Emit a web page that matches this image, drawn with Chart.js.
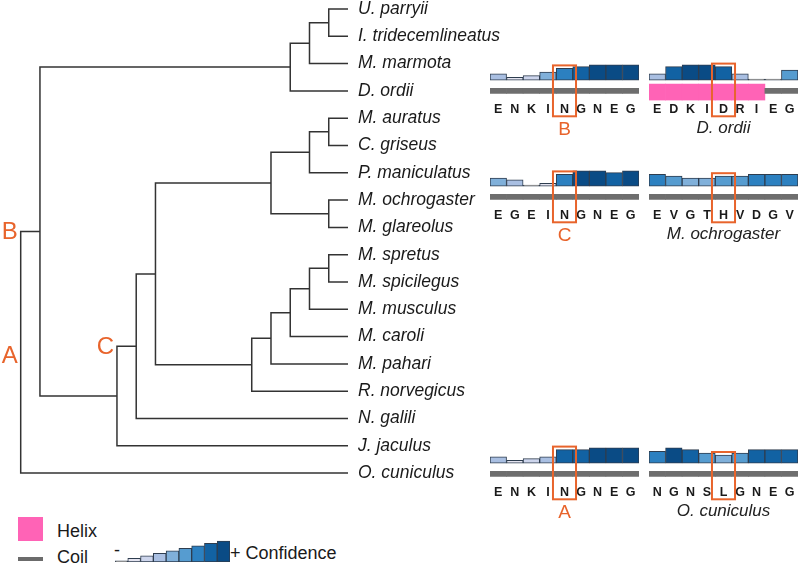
<!DOCTYPE html>
<html>
<head>
<meta charset="utf-8">
<script src="https://cdn.jsdelivr.net/npm/chart.js@4.4.1/dist/chart.umd.min.js"></script>
<style>
  html, body { margin: 0; padding: 0; background: #fff; }
  #stage { position: relative; width: 800px; height: 564px; overflow: hidden;
           font-family: 'Liberation Sans', Arial, sans-serif; color: #1a1a1a; }
  #stage canvas { position: absolute; }
  .key { position: absolute; font-size: 18px; line-height: 20px; white-space: nowrap; }
</style>
</head>
<body>
<div id="stage">
  <div class="key" style="left:18px;top:517px;width:25px;height:24px;background:#ff63b6"></div>
  <div class="key" style="left:57px;top:521px">Helix</div>
  <div class="key" style="left:18px;top:557px;width:25px;height:4px;background:#6b6b6b"></div>
  <div class="key" style="left:57px;top:547px">Coil</div>
  <div class="key" style="left:114px;top:540px">-</div>
  <div class="key" style="left:230px;top:543px">+ Confidence</div>
</div>
<script>
// leaf order, top to bottom
const species = ['U. parryii', 'I. tridecemlineatus', 'M. marmota', 'D. ordii', 'M. auratus',
  'C. griseus', 'P. maniculatus', 'M. ochrogaster', 'M. glareolus', 'M. spretus', 'M. spicilegus',
  'M. musculus', 'M. caroli', 'M. pahari', 'R. norvegicus', 'N. galili', 'J. jaculus', 'O. cuniculus'];

// topology with branch lengths
const treeNewick =
  '((' +
    '(((U. parryii:1,I. tridecemlineatus:1):1,M. marmota:2):1,D. ordii:3):13,' +
    '(((' +
      '(((M. auratus:1,C. griseus:1):1,P. maniculatus:2):2,(M. ochrogaster:1,M. glareolus:1):3):6,' +
      '(((((M. spretus:1,M. spicilegus:1):1,M. musculus:2):1,M. caroli:3):1,M. pahari:4):1,R. norvegicus:5):5' +
    '):1,N. galili:11):1,J. jaculus:12):4' +
  '):1,O. cuniculus:17);';

const ancestorNames = ['A', 'B', 'C'];
const ancestorPairs = [['U. parryii', 'O. cuniculus'], ['U. parryii', 'J. jaculus'], ['N. galili', 'M. musculus']];

// residue panels
const panelTitles = ['B', 'D. ordii', 'C', 'M. ochrogaster', 'A', 'O. cuniculus'];
const panelResidues = ['ENKINGNEG', 'EDKIDRIEG', 'EGEINGNEG', 'EVGTHVDGV', 'ENKINGNEG', 'NGNSLGNEG'];
const panelConfidence = [
  [4, 2, 3, 5, 7, 8, 9, 9, 9],
  [4, 8, 9, 9, 8, 4, 1, 1, 6],
  [5, 4, 1, 2, 7, 9, 9, 8, 9],
  [7, 6, 5, 5, 6, 6, 7, 7, 7],
  [4, 2, 3, 4, 8, 8, 9, 9, 9],
  [7, 9, 8, 6, 5, 6, 8, 8, 8]
];
const panelStructure = ['CCCCCCCCC', 'HHHHHHHCC', 'CCCCCCCCC', 'CCCCCCCCC', 'CCCCCCCCC', 'CCCCCCCCC'];
const highlightSite = 4;
const confidenceLevels = [1, 2, 3, 4, 5, 6, 7, 8, 9];

// styling
const ORANGE = '#e8642c';
const FONT = "'Liberation Sans', Arial, sans-serif";
// level 1 is so flat it only shows as a grey rule
const confidenceColors = ['#7a7a7a', '#e4e4f0', '#cdd5ec', '#a9bfe2', '#80b0da', '#569cd0',
  '#2c80c0', '#1262a3', '#0a4b85'];
const BAR_BASE = 0.5;
const HELIX_BAND = [-1.7, -10.6];
const COIL_BAND = [-4.1, -6.9];
const stage = document.getElementById('stage');

function addCanvas(left, top, w, h) {
  const c = document.createElement('canvas');
  c.width = w; c.height = h;
  c.style.left = left + 'px'; c.style.top = top + 'px';
  stage.appendChild(c);
  return c;
}

function parseNewick(str) {
  let i = 0;
  function readNode() {
    const node = { name: '', len: 0, children: [] };
    if (str[i] === '(') {
      i++;
      node.children.push(readNode());
      while (str[i] === ',') { i++; node.children.push(readNode()); }
      i++;
    }
    let label = '';
    while (i < str.length && !',():;'.includes(str[i])) label += str[i++];
    node.name = label.trim();
    if (str[i] === ':') {
      i++;
      let num = '';
      while (i < str.length && !',();'.includes(str[i])) num += str[i++];
      node.len = parseFloat(num);
    }
    return node;
  }
  return readNode();
}

// ---- tree layout ----
const root = parseNewick(treeNewick);
const internals = [];
(function place(node, parentX, parent) {
  node.x = parentX + node.len;
  node.parent = parent;
  if (!node.children.length) {
    node.y = species.indexOf(node.name);
    node.leaves = [node.name];
    return;
  }
  node.children.forEach(c => place(c, node.x, node));
  const ys = node.children.map(c => c.y);
  node.y = (Math.min(...ys) + Math.max(...ys)) / 2;
  node.leaves = node.children.flatMap(c => c.leaves);
  internals.push(node);
})(root, 0, null);

const maxDepth = Math.max(...internals.flatMap(n => n.children.map(c => c.x)));

const treeDatasets = internals.map(n => {
  const first = n.children[0], last = n.children[n.children.length - 1];
  return {
    data: [
      { x: first.x, y: first.y }, { x: n.x, y: first.y },
      { x: n.x, y: last.y }, { x: last.x, y: last.y }
    ],
    showLine: true,
    borderColor: '#333',
    borderWidth: 1.5,
    pointRadius: 0,
    tension: 0,
    clip: false
  };
});

function mrca(a, b) {
  return internals
    .filter(n => n.leaves.includes(a) && n.leaves.includes(b))
    .sort((p, q) => p.leaves.length - q.leaves.length)[0];
}

const ancestorTags = {
  id: 'ancestorTags',
  afterDraw(chart) {
    const { ctx, scales: { x, y } } = chart;
    ctx.save();
    ctx.fillStyle = ORANGE;
    ctx.font = '24px ' + FONT;
    ctx.textAlign = 'right';
    ctx.textBaseline = 'middle';
    ancestorNames.forEach((name, k) => {
      const node = mrca(...ancestorPairs[k]);
      // root tag sits a little below the node midpoint in the original
      const startX = node.parent ? node.parent.x : node.x;
      const dy = node.parent ? 1 : 4;
      ctx.fillText(name, x.getPixelForValue(startX) - 3, y.getPixelForValue(node.y) + dy);
    });
    ctx.restore();
  }
};

// pixel targets for the tree
const treeW = 500, treeH = 564, treeRight = 348;
const rootPx = 20.7, firstRowPx = 9, rowPx = 27.3;
const unitPx = (treeRight - rootPx) / maxDepth;
const yRange = treeH / rowPx;

new Chart(addCanvas(0, 0, treeW, treeH), {
  type: 'scatter',
  data: { datasets: treeDatasets },
  options: {
    responsive: false,
    animation: false,
    layout: { padding: 0 },
    plugins: { legend: { display: false }, tooltip: { enabled: false } },
    scales: {
      x: { type: 'linear', display: false, min: -rootPx / unitPx, max: maxDepth },
      y: {
        type: 'linear',
        position: 'right',
        reverse: true,
        min: -firstRowPx / rowPx,
        max: yRange - firstRowPx / rowPx,
        afterBuildTicks: s => { s.ticks = species.map((_, i) => ({ value: i })); },
        afterFit: s => { s.width = treeW - treeRight; s.paddingTop = 0; s.paddingBottom = 0; },
        ticks: {
          autoSkip: false,
          padding: 10,
          color: '#1a1a1a',
          font: { family: FONT, size: 17.5, style: 'italic' },
          callback: v => species[v]
        },
        grid: { display: false, drawTicks: false },
        border: { display: false }
      }
    }
  },
  plugins: [ancestorTags]
});

// ---- residue panels ----
const siteBox = {
  id: 'siteBox',
  afterDraw(chart, args, opts) {
    const { ctx, chartArea, scales: { x, y } } = chart;
    const step = x.getPixelForValue(1) - x.getPixelForValue(0);
    const cx = x.getPixelForValue(opts.index);
    const top = y.getPixelForValue(opts.value) - 3;
    const bottom = chartArea.bottom + 15.5;
    ctx.save();
    ctx.strokeStyle = ORANGE;
    ctx.lineWidth = 2;
    ctx.strokeRect(cx - step / 2 - 3.25, top, step + 6.5, bottom - top);
    ctx.restore();
  }
};

const panelRowsY = [80, 186, 463];
const panelColsX = [[490, 639], [649, 798]];
const PX_PER_LEVEL = 1.8, Y_MIN = -11, Y_MAX = 10, PANEL_H = 87, PAD_TOP = 8;

panelTitles.forEach((title, p) => {
  const [x0, x1] = panelColsX[p % 2];
  const barBottom = panelRowsY[Math.floor(p / 2)];
  const levels = panelConfidence[p];
  const struct = panelStructure[p].split('');
  const isAncestor = ancestorNames.includes(title);
  const areaH = (Y_MAX - Y_MIN) * PX_PER_LEVEL;

  new Chart(addCanvas(x0 - 10, barBottom - 25, x1 - x0 + 20, PANEL_H), {
    type: 'bar',
    data: {
      labels: panelResidues[p].split(''),
      datasets: [
        {
          data: levels.map(v => [BAR_BASE, v]),
          backgroundColor: levels.map(v => confidenceColors[v - 1]),
          borderColor: '#2e3d4f',
          borderWidth: 1,
          borderSkipped: false,
          grouped: false,
          barPercentage: 1,
          categoryPercentage: 1
        },
        {
          data: struct.map(s => s === 'H' ? HELIX_BAND : COIL_BAND),
          backgroundColor: struct.map(s => s === 'H' ? '#ff63b6' : '#6e6e6e'),
          borderWidth: 0,
          grouped: false,
          barPercentage: 1,
          categoryPercentage: 1
        }
      ]
    },
    options: {
      responsive: false,
      animation: false,
      layout: { padding: { left: 10, right: 10, top: PAD_TOP, bottom: 0 } },
      plugins: {
        legend: { display: false },
        tooltip: { enabled: false },
        siteBox: { index: highlightSite, value: levels[highlightSite] }
      },
      scales: {
        x: {
          afterFit: s => { s.height = PANEL_H - PAD_TOP - areaH; s.paddingLeft = 0; s.paddingRight = 0; },
          ticks: {
            padding: 1,
            color: '#1a1a1a',
            font: { family: FONT, size: 12.5, weight: 'bold' }
          },
          grid: { display: false, drawTicks: false },
          border: { display: false },
          title: {
            display: true,
            text: title,
            color: isAncestor ? ORANGE : '#222',
            padding: { top: 0, bottom: isAncestor ? 0.6 : 3.8 },
            font: isAncestor
              ? { family: FONT, size: 19 }
              : { family: FONT, size: 17, style: 'italic' }
          }
        },
        y: { display: false, min: Y_MIN, max: Y_MAX }
      }
    },
    plugins: [siteBox]
  });
});

// ---- confidence key ----
new Chart(addCanvas(105, 530, 135, 34), {
  type: 'bar',
  data: {
    labels: confidenceLevels,
    datasets: [{
      data: confidenceLevels.map(v => [BAR_BASE, v]),
      backgroundColor: confidenceLevels.map(v => confidenceColors[v - 1]),
      borderColor: '#2e3d4f',
      borderWidth: 1,
      borderSkipped: false,
      barPercentage: 1,
      categoryPercentage: 1
    }]
  },
  options: {
    responsive: false,
    animation: false,
    layout: { padding: { left: 10, right: 10, top: 8.5, bottom: 2 } },
    plugins: { legend: { display: false }, tooltip: { enabled: false } },
    scales: {
      x: { display: false },
      y: { display: false, min: BAR_BASE, max: 10 }
    }
  }
});
</script>
</body>
</html>
